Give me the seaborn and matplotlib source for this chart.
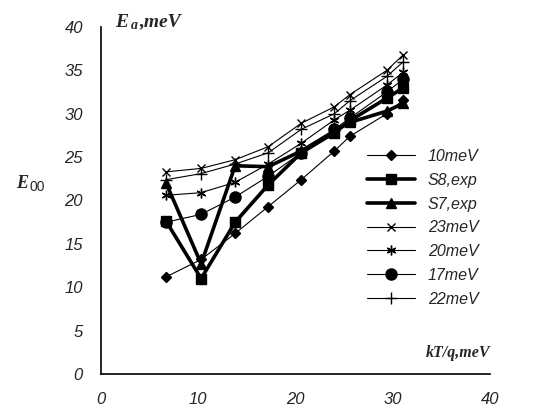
import numpy as np
import pandas as pd
import matplotlib
matplotlib.use("Agg")
import matplotlib.pyplot as plt
import seaborn as sns

# temperature points, kT/q in meV
kt = [6.7, 10.3, 13.8, 17.2, 20.6, 24.0, 25.6, 29.4, 31.1]

e_10 = [11.2, 13.2, 16.2, 19.3, 22.4, 25.7, 27.4, 30.0, 31.6]
e_s8 = [17.6, 11.0, 17.5, 21.8, 25.5, 27.8, 29.2, 31.8, 33.0]
e_s7 = [22.0, 12.7, 24.0, 23.9, 25.7, 28.0, 29.0, 30.3, 31.2]
e_23 = [23.3, 23.7, 24.7, 26.2, 28.9, 30.8, 32.2, 35.0, 36.8]
e_20 = [20.6, 20.9, 22.1, 24.2, 26.6, 29.3, 30.4, 33.3, 34.8]
e_17 = [17.5, 18.4, 20.4, 22.8, 25.5, 28.2, 29.5, 32.5, 34.0]
e_22 = [22.4, 23.1, 24.2, 25.5, 28.2, 30.0, 31.5, 34.3, 36.0]

labels = ["10meV", "S8,exp", "S7,exp", "23meV", "20meV", "17meV", "22meV"]
series = [e_10, e_s8, e_s7, e_23, e_20, e_17, e_22]

styles = {
    "10meV": dict(marker="D", markersize=5, lw=0.8),
    "S8,exp": dict(marker="s", markersize=7, lw=2.6),
    "S7,exp": dict(marker="^", markersize=7, lw=2.6),
    "23meV": dict(marker="x", markersize=6, lw=0.8),
    "20meV": dict(marker=(6, 2, 0), markersize=7, lw=0.8),
    "17meV": dict(marker="o", markersize=8, lw=0.8),
    "22meV": dict(marker="+", markersize=8, lw=0.8),
}

df = pd.DataFrame({
    "kT": kt * len(labels),
    "E": [v for s in series for v in s],
    "curve": [lab for lab in labels for _ in kt],
})

sns.set_style("white")
plt.rcParams["font.family"] = ["Liberation Sans", "DejaVu Sans"]

fig = plt.figure(figsize=(5.33, 4.09), dpi=100)
ax = fig.add_axes([0.1895, 0.0856, 0.7295, 0.8484])

for lab in labels:
    st = styles[lab]
    sns.lineplot(data=df[df["curve"] == lab], x="kT", y="E", ax=ax,
                 color="black", linewidth=st["lw"], marker=st["marker"],
                 markersize=st["markersize"], markeredgecolor="black",
                 markeredgewidth=1.0, label=lab)

ax.set_xlim(0, 40)
ax.set_ylim(0, 40)
ax.set_xticks([0, 10, 20, 30, 40])
ax.set_yticks(range(0, 41, 5))
ax.set_xlabel("")
ax.set_ylabel("")
for side in ["top", "right"]:
    ax.spines[side].set_visible(False)
for side in ["left", "bottom"]:
    ax.spines[side].set_color("black")
    ax.spines[side].set_linewidth(1.2)
ax.tick_params(axis="both", direction="out", length=5, width=1.2,
               color="black", labelsize=12, pad=8)
for t in ax.get_xticklabels() + ax.get_yticklabels():
    t.set_fontstyle("italic")

leg = ax.legend(loc="upper left", bbox_to_anchor=(0.668, 0.667), frameon=False,
                handlelength=3.0, labelspacing=0.55, fontsize=11.5,
                borderaxespad=0)
for t in leg.get_texts():
    t.set_fontstyle("italic")

serif = ["Liberation Serif", "DejaVu Serif"]
fig.text(0.03, 0.54, "E", fontsize=13, fontweight="bold", fontstyle="italic", family=serif)
fig.text(0.056, 0.532, "00", fontsize=10, family=["Liberation Sans"])
fig.text(0.216, 0.935, "E", fontsize=14, fontweight="bold", fontstyle="italic", family=serif)
fig.text(0.245, 0.929, "a", fontsize=10, fontweight="bold", fontstyle="italic", family=serif)
fig.text(0.262, 0.935, ",meV", fontsize=14, fontweight="bold", fontstyle="italic", family=serif)
fig.text(0.92, 0.128, "kT/q,meV", fontsize=11.5, fontweight="bold", fontstyle="italic",
         family=serif, ha="right")

fig.savefig("out.png", dpi=100, facecolor="white")
